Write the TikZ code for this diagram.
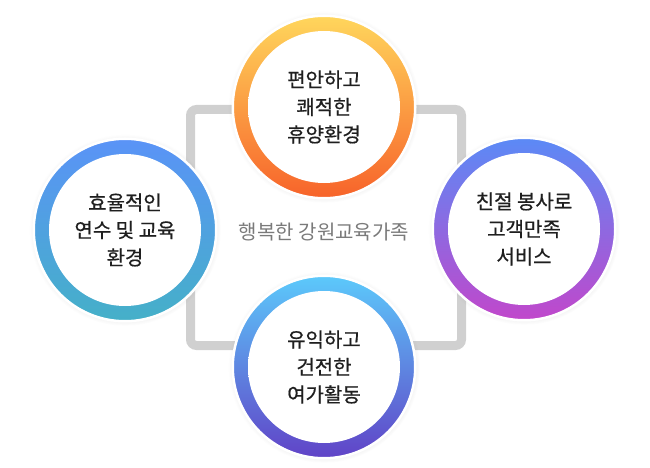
\documentclass[tikz,border=0pt]{standalone}
\usepackage{fontspec}
\setmainfont{Noto Sans CJK KR}
\newfontfamily\ringfont[FakeBold=0.6]{Noto Sans CJK KR}
\usetikzlibrary{shadows}

\definecolor{topA}{HTML}{FFD65C}
\definecolor{topB}{HTML}{F7632A}
\definecolor{leftA}{HTML}{5A93F7}
\definecolor{leftB}{HTML}{45B0C8}
\definecolor{rightA}{HTML}{5B8AF6}
\definecolor{rightB}{HTML}{C147CB}
\definecolor{botA}{HTML}{5CC9FB}
\definecolor{botB}{HTML}{6043C7}
\definecolor{frameGray}{HTML}{D0D0D0}

\pgfdeclareradialshading{innerdisc}{\pgfpoint{0bp}{0bp}}{%
    color(0bp)=(white); color(40bp)=(white); color(50bp)=(black!11)}

\tikzset{
    ring/.style={
        circle, inner sep=0pt, minimum size=182.5pt,
        draw=white, line width=2.5pt,
        circular drop shadow={shadow xshift=0pt, shadow yshift=0pt,
            shadow scale=1.05, opacity=0.25}
    },
    disc/.style={
        circle, inner sep=0pt, minimum size=152pt,
        shading=innerdisc, align=center, text=black!88,
        font=\ringfont\fontsize{20}{27.5}\selectfont
    },
    frame/.style={draw=frameGray, line width=9pt, rounded corners=6pt}
}

\begin{document}
\begin{tikzpicture}[x=1pt, y=-1pt]
	\useasboundingbox (0,0) rectangle (650,468);
	
	\draw[ frame ] (190.5,109.5) rectangle (461.5,345.5);
	
	\node[font=\fontsize{20}{24}\selectfont, text=black!52] (motto) at (324,232) {행복한 강원교육가족};
	
	\foreach \n/\x/\y/\ca/\cb/\txt in {
			top/324/107/topA/topB/{편안하고\\쾌적한\\휴양환경},
			left/125/230/leftA/leftB/{효율적인\\연수 및 교육\\환경},
			right/524/229/rightA/rightB/{친절 봉사로\\고객만족\\서비스},
			bottom/324/367/botA/botB/{유익하고\\건전한\\여가활동}} {
			\node[ ring, top color=\ca, bottom color=\cb ] (ring-\n) at (\x,\y) {};
			\node[ disc ] (disc-\n) at (ring-\n) {\txt};
	}
	
\end{tikzpicture}
\end{document}
